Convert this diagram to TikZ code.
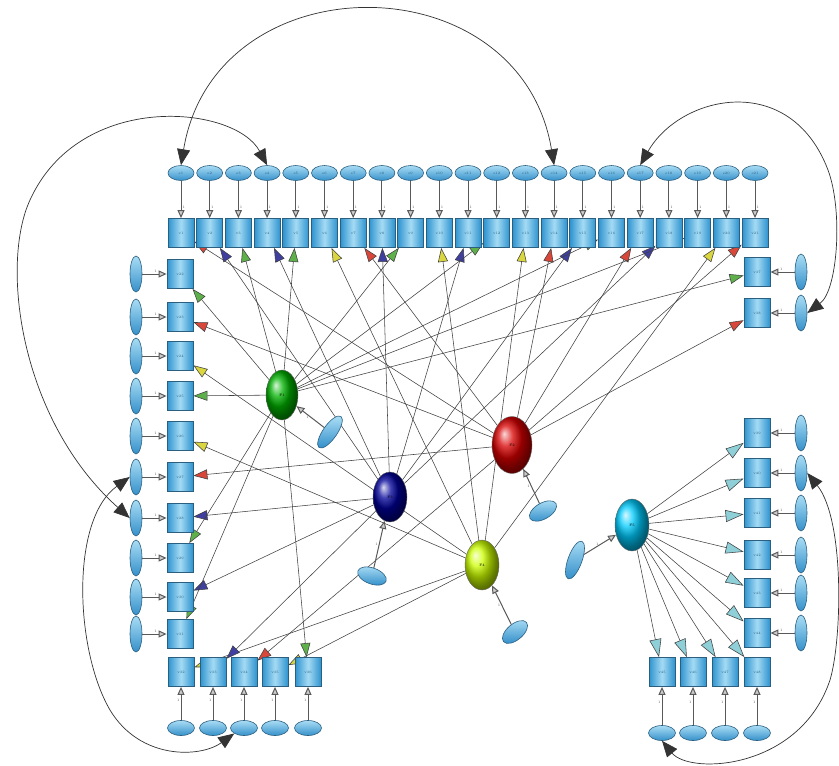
\documentclass[tikz,border=0pt]{standalone}
\usepackage{amssymb}
\usepackage{amsmath}
\usepackage{tikz}
\usetikzlibrary{arrows.meta,shapes.geometric,backgrounds}

\definecolor{boxblue}{HTML}{2E93CF}
\definecolor{boxlight}{HTML}{A5DBF4}
\definecolor{boxline}{HTML}{2B5F80}
\definecolor{errblue}{HTML}{3590CA}
\definecolor{errlight}{HTML}{A9DDF5}
\definecolor{hgreen}{HTML}{5DB04A}
\definecolor{hred}{HTML}{D8473A}
\definecolor{hblue}{HTML}{3F3FA0}
\definecolor{hyellow}{HTML}{D9D640}
\definecolor{hcyan}{HTML}{8FD0D8}

\begin{document}
\begin{tikzpicture}[x=1pt,y=-1pt,
    obs/.style={rectangle,draw=boxline,line width=0.8pt,left color=boxblue,right color=boxblue,
      middle color=boxlight,minimum width=26pt,minimum height=29pt,inner sep=0pt,
      font=\fontsize{3.5}{4}\selectfont,text=boxline},
    err/.style={ellipse,draw=boxline,line width=0.6pt,top color=errlight,bottom color=errblue,
      inner sep=0pt,font=\fontsize{3.5}{4}\selectfont,text=boxline},
    errh/.style={err,minimum width=26pt,minimum height=15pt},
    errv/.style={err,minimum width=12pt,minimum height=36pt},
    lat/.style={ellipse,draw=black!60,minimum width=34pt,minimum height=50pt,inner sep=0pt,
      font=\fontsize{3.5}{4}\selectfont},
    eline/.style={draw=black!65,line width=1pt,-{Triangle[length=8pt,width=7pt,fill=gray!40]}},
    load/.style={draw=black!75,line width=0.55pt,-{Triangle[length=14pt,width=10pt,fill=#1]}},
    cload/.style={draw=black!75,line width=0.55pt,-{Triangle[length=18pt,width=12pt,fill=hcyan]}},
    cov/.style={draw=black!80,line width=0.7pt,{Triangle[length=16pt,width=13pt]}-{Triangle[length=16pt,width=13pt]}},
    one/.style={font=\fontsize{3.5}{4}\selectfont,text=black!70,inner sep=1pt}
    ]
    \useasboundingbox (0,0) rectangle (839,766);

    \foreach \i in {1,...,21} {
        \node[obs] (t\i) at ({181+28.7*(\i-1)},233) {v\i};
        \node[errh] (et\i) at ({181+28.7*(\i-1)},173) {e\i};
        \draw[eline] (et\i) -- (t\i) node[one,pos=0.72,right] {1};
    }
    \foreach \j/\y [evaluate=\j as \n using int(\j+21)] in {1/274,2/317,3/356,4/396,5/436,6/477,7/518,8/558,9/597,10/634} {
        \node[obs] (l\j) at (180,\y) {v\n};
        \node[errv] (el\j) at (136,\y) {};
        \draw[eline] (el\j) -- (l\j) node[one,pos=0.55,above] {1};
    }
    \foreach \k/\x [evaluate=\k as \n using int(\k+31)] in {1/181,2/213,3/244,4/275,5/308} {
        \node[obs] (bl\k) at (\x,672) {v\n};
        \node[errh,minimum width=27pt] (ebl\k) at (\x,728) {};
        \draw[eline] (ebl\k) -- (bl\k) node[one,pos=0.6,left] {1};
    }
    \foreach \k/\y [evaluate=\k as \n using int(\k+36)] in {1/272,2/313} {
        \node[obs] (r\k) at (757,\y) {v\n};
        \node[errv] (er\k) at (801,\y) {};
        \draw[eline] (er\k) -- (r\k) node[one,pos=0.55,above] {1};
    }
    \foreach \k/\y [evaluate=\k as \n using int(\k+38)] in {1/433,2/473,3/513,4/555,5/593,6/633} {
        \node[obs] (s\k) at (757,\y) {v\n};
        \node[errv] (es\k) at (801,\y) {};
        \draw[eline] (es\k) -- (s\k) node[one,pos=0.55,above] {1};
    }
    \foreach \k/\x [evaluate=\k as \n using int(\k+44)] in {1/662,2/693,3/725,4/757} {
        \node[obs] (u\k) at (\x,672) {v\n};
        \node[errh,minimum width=27pt] (eu\k) at (\x,733) {};
        \draw[eline] (eu\k) -- (u\k) node[one,pos=0.6,left] {1};
    }

    \node[lat,ball color=green!70!black,minimum width=32pt] (G) at (282,395) {F1};
    \node[lat,ball color=red!85!black,minimum width=40pt,minimum height=57pt] (R) at (512,445) {F2};
    \node[lat,ball color=blue!60!black] (B) at (390,497) {F3};
    \node[lat,ball color=yellow!80!green] (Y) at (482,565) {F4};
    \node[lat,ball color=cyan!80!blue,minimum height=52pt] (C) at (632,525) {F5};

    \node[errv,rotate=-35,minimum height=38pt,minimum width=14pt] (eG) at (330,432) {};
    \node[errh,rotate=-20,minimum width=30pt,minimum height=16pt] (eB) at (372,576) {};
    \node[errh,rotate=30,minimum width=30pt,minimum height=16pt] (eR) at (543,511) {};
    \node[errh,rotate=40,minimum width=30pt,minimum height=16pt] (eY) at (515,632) {};
    \node[errv,rotate=-20,minimum height=40pt,minimum width=14pt] (eC) at (575,560) {};
    \foreach \e/\f in {eG/G,eB/B,eR/R,eY/Y,eC/C}
        \draw[eline] (\e) -- (\f) node[one,pos=0.5,left] {1};

    \begin{pgfonlayer}{background}
    \foreach \s/\t/\c in {R/t1/hred,B/t2/hblue,G/t3/hgreen,B/t4/hblue,G/t5/hgreen,Y/t6/hyellow,
        R/t7/hred,B/t8/hblue,G/t9/hgreen,Y/t10/hyellow,B/t11/hblue,G/t12/hgreen,Y/t13/hyellow,
        R/t14/hred,B/t15/hblue,G/t16/hgreen,R/t17/hred,B/t18/hblue,G/t19/hgreen,Y/t20/hyellow,
        R/t21/hred,G/r1/hgreen,R/r2/hred,
        G/l1/hgreen,R/l2/hred,Y/l3/hyellow,G/l4/hgreen,Y/l5/hyellow,R/l6/hred,B/l7/hblue,
        G/l8/hgreen,B/l9/hblue,G/l10/hgreen,
        Y/bl1/hyellow,B/bl2/hblue,R/bl3/hred,Y/bl4/hyellow,G/bl5/hgreen}
        \draw[load=\c] (\s) -- (\t);
    \foreach \t in {s1,s2,s3,s4,s5,s6,u1,u2,u3,u4}
        \draw[cload] (C) -- (\t);
    \end{pgfonlayer}

    \draw[cov] (et1.north) .. controls (215,-40) and (520,-40) .. (et14.north);
    \draw[cov] (et4.north) .. controls (235,105) and (80,90) .. (30,200)
        .. controls (0,265) and (20,420) .. (el7.west);
    \draw[cov] (el6.west) .. controls (70,520) and (75,650) .. (110,710)
        .. controls (140,760) and (200,758) .. (ebl3.south west);
    \draw[cov] (et17.north) .. controls (680,95) and (790,70) .. (828,170)
        .. controls (843,210) and (838,290) .. (er2.east);
    \draw[cov] (eu1.south) .. controls (690,775) and (800,770) .. (830,680)
        .. controls (842,640) and (845,520) .. (es2.east);
\end{tikzpicture}
\end{document}
